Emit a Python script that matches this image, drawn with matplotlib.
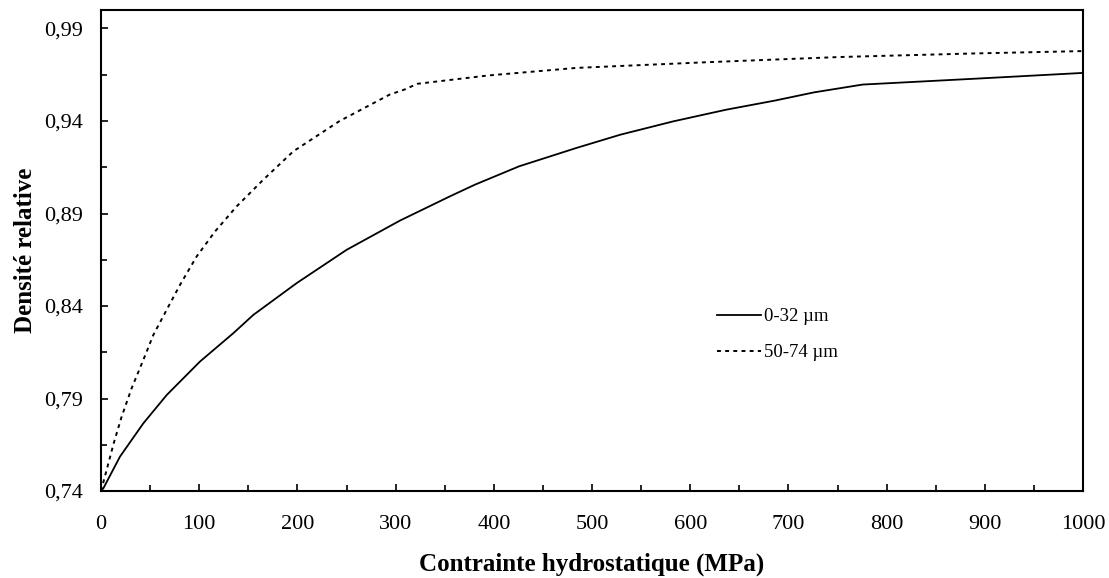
import numpy as np
import matplotlib
matplotlib.use("Agg")
import matplotlib.pyplot as plt
from matplotlib.ticker import MultipleLocator, FuncFormatter

# pressure (MPa) / relative density
p_fine = [0, 2.4, 19.3, 43.1, 66.9, 100.8, 134.7, 155.1, 199.3, 250.2, 304.5, 355.4, 380.8,
          425.7, 483.9, 528.8, 582.7, 636.5, 685.8, 726.3, 775.6, 887.8, 1000]
d_fine = [0.74, 0.7415, 0.7586, 0.7766, 0.7919, 0.810, 0.8253, 0.8352, 0.8524, 0.8704, 0.8862,
          0.8993, 0.9056, 0.9155, 0.9254, 0.9326, 0.9398, 0.9461, 0.951, 0.9555, 0.9597, 0.9628, 0.966]

p_coarse = [0, 4, 13, 21, 31.2, 43.1, 53.3, 68.6, 80.5, 97.4, 116.1, 138.2, 165.3, 195.8, 243,
            294, 309, 322, 394, 484, 618, 753, 888, 1000]
d_coarse = [0.74, 0.748, 0.766, 0.7802, 0.7956, 0.8109, 0.8244, 0.8397, 0.8515, 0.8668, 0.8803,
            0.8939, 0.9083, 0.9236, 0.94, 0.9543, 0.957, 0.9601, 0.9646, 0.9687, 0.9718, 0.9746,
            0.9765, 0.9778]

labels = ["0-32 µm", "50-74 µm"]

plt.rcParams['font.family'] = ['Liberation Serif', 'DejaVu Serif']

fig = plt.figure(figsize=(11.09, 5.78), dpi=100)
ax = fig.add_axes([0.0911, 0.1505, 0.8855, 0.8322])

ax.plot(p_fine, d_fine, color='black', lw=1.3, label=labels[0])
ax.plot(p_coarse, d_coarse, color='black', lw=1.4, linestyle=(0, (2, 2.2)), label=labels[1])

ax.set_xlim(0, 1000)
ax.set_ylim(0.74, 1.0)
ax.xaxis.set_major_locator(MultipleLocator(100))
ax.xaxis.set_minor_locator(MultipleLocator(50))
ax.set_yticks([0.74, 0.79, 0.84, 0.89, 0.94, 0.99])
ax.set_yticks([0.765, 0.815, 0.865, 0.915, 0.965], minor=True)
ax.yaxis.set_major_formatter(FuncFormatter(lambda v, pos: f"{v:.2f}".replace('.', ',')))

ax.tick_params(which='both', direction='in', width=1.2, labelsize=16)
ax.tick_params(which='major', length=5)
ax.tick_params(which='minor', length=4)
ax.tick_params(axis='y', pad=13)
ax.tick_params(axis='x', pad=17)
for s in ax.spines.values():
    s.set_linewidth(1.5)

ax.set_xlabel('Contrainte hydrostatique (MPa)', fontsize=18, fontweight='bold', labelpad=14)
ax.set_ylabel('Densité relative', fontsize=18, fontweight='bold', labelpad=5)

ax.legend(loc='upper left', bbox_to_anchor=(0.627, 0.38), frameon=False, fontsize=13.5,
          handlelength=2.35, handletextpad=0.15, labelspacing=1.0, borderpad=0, borderaxespad=0)

fig.savefig('out.png', dpi=100)
